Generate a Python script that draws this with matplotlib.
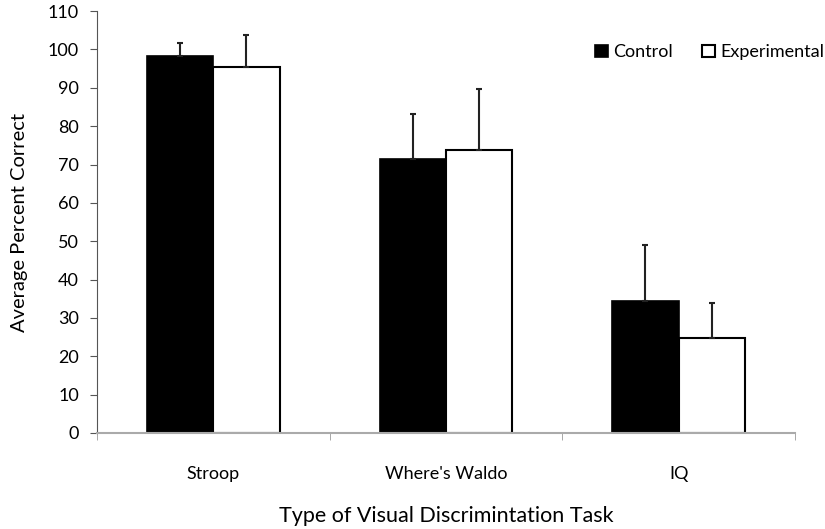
import numpy as np
import matplotlib.pyplot as plt

plt.rcParams['font.family'] = ['Lato', 'DejaVu Sans']

# Data
tasks = ['Stroop', "Where's Waldo", 'IQ']
control = [98.2, 71.4, 34.5]
control_err = [3.4, 11.9, 14.5]
experimental = [95.3, 73.7, 24.7]
experimental_err = [8.6, 15.9, 9.2]

x = np.arange(len(tasks))
w = 0.285

fig = plt.figure(figsize=(8.25, 5.29), dpi=100)
ax = fig.add_axes([0.1176, 0.1815, 0.846, 0.7975])

ax.bar(x - w / 2, control, w, color='black', edgecolor='black', linewidth=1.2,
       label='Control',
       yerr=[np.zeros(3), control_err], capsize=2.5,
       error_kw=dict(ecolor='#222222', elinewidth=1.5, capthick=1.5))
ax.bar(x + w / 2, experimental, w, color='white', edgecolor='black', linewidth=1.5,
       label='Experimental',
       yerr=[np.zeros(3), experimental_err], capsize=2.5,
       error_kw=dict(ecolor='#222222', elinewidth=1.5, capthick=1.5))

ax.set_xlim(-0.5, 2.5)
ax.set_ylim(0, 110)
ax.set_yticks(range(0, 111, 10))
ax.set_xticks(x)
ax.set_xticklabels(tasks)
ax.set_xticks([-0.5, 0.5, 1.5, 2.5], minor=True)
ax.tick_params(axis='x', which='major', length=0, pad=24, labelsize=13)
ax.tick_params(axis='x', which='minor', length=5, color='#999999', direction='out')
ax.tick_params(axis='y', length=5, color='#555555', labelsize=13, pad=8)

for s in ['top', 'right']:
    ax.spines[s].set_visible(False)
ax.spines['left'].set_color('#555555')
ax.spines['bottom'].set_color('#aaaaaa')
ax.spines['bottom'].set_linewidth(1.5)

ax.set_ylabel('Average Percent Correct', fontsize=14.5, labelpad=14)
ax.set_xlabel('Type of Visual Discrimintation Task', fontsize=15.5, labelpad=17)

ax.legend(loc='upper right', bbox_to_anchor=(1.065, 0.96), ncol=2, frameon=False,
          fontsize=13, handlelength=0.7, handleheight=0.7, handletextpad=0.3,
          columnspacing=1.6)

fig.savefig('out.png')
